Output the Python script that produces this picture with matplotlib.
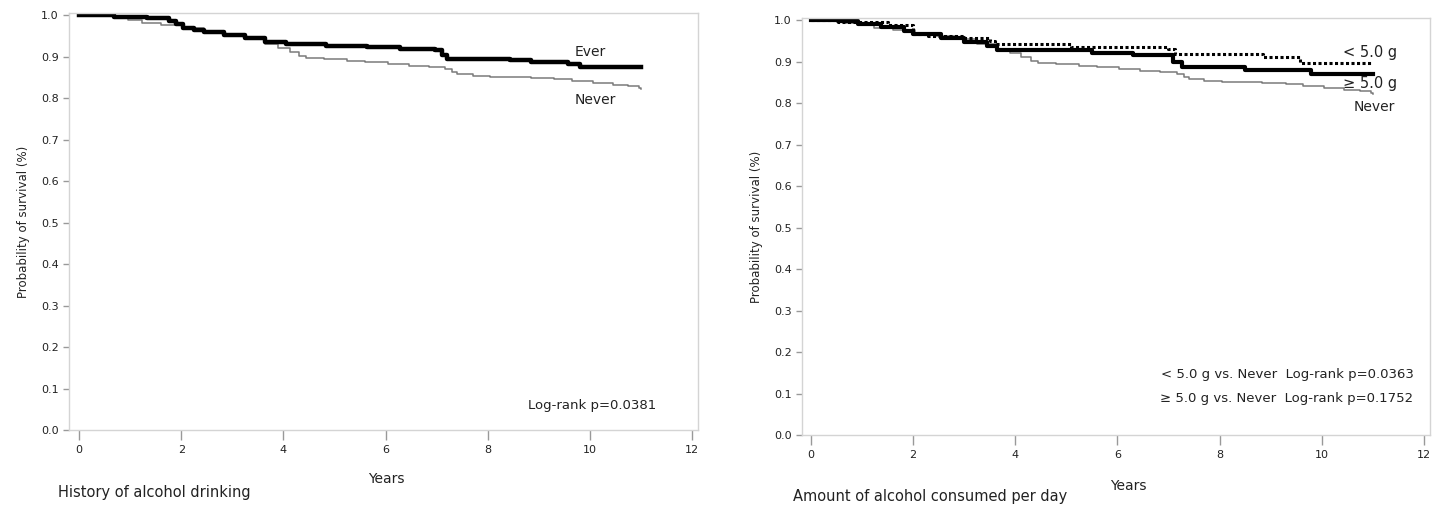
import matplotlib
matplotlib.use("Agg")
import matplotlib.pyplot as plt

# survival step points (time in years, survival probability)
never_t = [0, 0.35, 0.68, 0.95, 1.24, 1.6, 2.04, 2.45, 2.84, 3.25, 3.64, 3.9, 4.12, 4.3,
           4.44, 4.8, 5.24, 5.6, 6.04, 6.45, 6.84, 7.16, 7.3, 7.4, 7.7, 8.04, 8.84,
           9.3, 9.64, 10.05, 10.44, 10.75, 10.96, 11.0]
never_s = [1.0, 0.998, 0.994, 0.988, 0.982, 0.976, 0.970, 0.962, 0.954, 0.943, 0.930,
           0.920, 0.910, 0.902, 0.896, 0.893, 0.890, 0.886, 0.882, 0.878, 0.874, 0.870,
           0.864, 0.858, 0.854, 0.851, 0.848, 0.845, 0.842, 0.837, 0.832, 0.828, 0.824,
           0.821]

ever_t = [0, 0.68, 1.32, 1.76, 1.9, 2.04, 2.25, 2.44, 2.84, 3.24, 3.64, 4.04, 4.84,
          5.64, 6.28, 6.96, 7.1, 7.2, 8.44, 8.84, 9.56, 9.8, 11.0]
ever_s = [1.0, 0.995, 0.992, 0.986, 0.978, 0.970, 0.965, 0.960, 0.952, 0.944, 0.934,
          0.930, 0.926, 0.922, 0.918, 0.915, 0.904, 0.894, 0.891, 0.888, 0.882, 0.876,
          0.876]

low_t = [0, 0.52, 1.5, 2.0, 2.3, 3.0, 3.5, 3.6, 5.1, 7.0, 7.12, 8.85, 9.57, 10.98]
low_s = [1.0, 0.996, 0.989, 0.966, 0.961, 0.958, 0.950, 0.942, 0.936, 0.930, 0.918,
         0.910, 0.897, 0.897]

high_t = [0, 0.52, 0.92, 1.37, 1.83, 2.0, 2.55, 3.0, 3.45, 3.65, 5.5, 6.3, 7.08, 7.26,
          8.5, 9.8, 11.0]
high_s = [1.0, 0.997, 0.990, 0.984, 0.973, 0.966, 0.958, 0.948, 0.938, 0.927, 0.921,
          0.916, 0.900, 0.887, 0.879, 0.870, 0.870]

x_ticks = [0, 2, 4, 6, 8, 10, 12]
y_ticks = [0.0, 0.1, 0.2, 0.3, 0.4, 0.5, 0.6, 0.7, 0.8, 0.9, 1.0]

tick_font = ['Liberation Sans Narrow', 'DejaVu Sans']
text_font = ['DejaVu Sans']

fig = plt.figure(figsize=(14.38, 5.05), dpi=100)
ax1 = fig.add_axes([0.048, 0.1485, 0.4374, 0.8257])
ax2 = fig.add_axes([0.5577, 0.1386, 0.4367, 0.8257])


def style_axes(ax, xlim):
    ax.set_xlim(*xlim)
    ax.set_ylim(0, 1.005)
    ax.set_xticks(x_ticks)
    ax.set_yticks(y_ticks)
    ax.set_xticklabels([str(t) for t in x_ticks], family=tick_font, fontsize=8)
    ax.set_yticklabels(['%.1f' % t for t in y_ticks], family=tick_font, fontsize=8)
    for sp in ax.spines.values():
        sp.set_color('#d4d4d4')
        sp.set_linewidth(1.0)
    ax.tick_params(axis='x', length=7, width=1, color='#999999', pad=4, labelcolor='#222222')
    ax.tick_params(axis='y', length=4.5, width=1, color='#999999', pad=3, labelcolor='#222222')
    ax.set_ylabel('Probability of survival (%)', family=text_font, fontsize=8.5,
                  color='#222222', labelpad=8)


# left panel
ax1.step(never_t, never_s, where='post', color='#7a7a7a', lw=1.1)
ax1.step(ever_t, ever_s, where='post', color='black', lw=3.2)
style_axes(ax1, (-0.196, 12.11))
ax1.text(10.0, 0.91, 'Ever', family=text_font, fontsize=10, ha='center', va='center', color='#222222')
ax1.text(10.1, 0.796, 'Never', family=text_font, fontsize=10, ha='center', va='center', color='#222222')
ax1.text(11.3, 0.06, 'Log-rank p=0.0381', family=text_font, fontsize=9.5, ha='right', va='center', color='#222222')
fig.text(386 / 1438, 1 - 479 / 505, 'Years', family=text_font, fontsize=10, ha='center', va='center', color='#222222')
fig.text(58 / 1438, 1 - 493 / 505, 'History of alcohol drinking', family=text_font, fontsize=10.5,
         ha='left', va='center', color='#222222')

# right panel
ax2.step(never_t, never_s, where='post', color='#7a7a7a', lw=1.1)
ax2.step(low_t, low_s, where='post', color='black', lw=2.2, linestyle=(0, (1, 0.8)))
ax2.step(high_t, high_s, where='post', color='black', lw=3.0)
style_axes(ax2, (-0.176, 12.12))
ax2.text(11.47, 0.921, '< 5.0 g', family=text_font, fontsize=10.5, ha='right', va='center', color='#222222')
ax2.text(11.47, 0.848, '\u2265 5.0 g', family=text_font, fontsize=10.5, ha='right', va='center', color='#222222')
ax2.text(11.04, 0.79, 'Never', family=text_font, fontsize=10, ha='center', va='center', color='#222222')
ax2.text(11.8, 0.145, '< 5.0 g vs. Never  Log-rank p=0.0363', family=text_font, fontsize=9.5,
         ha='right', va='center', color='#222222')
ax2.text(11.8, 0.087, '\u2265 5.0 g vs. Never  Log-rank p=0.1752', family=text_font, fontsize=9.5,
         ha='right', va='center', color='#222222')
fig.text(1128 / 1438, 1 - 486 / 505, 'Years', family=text_font, fontsize=10, ha='center', va='center', color='#222222')
fig.text(793 / 1438, 1 - 497 / 505, 'Amount of alcohol consumed per day', family=text_font, fontsize=10.5,
         ha='left', va='center', color='#222222')

fig.savefig('out.png', dpi=100)
